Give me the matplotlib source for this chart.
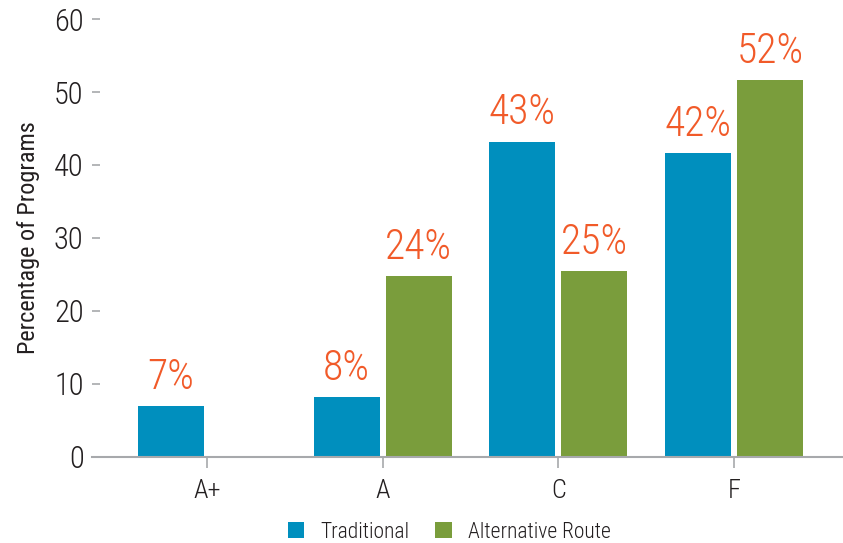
import matplotlib
matplotlib.use("Agg")
import matplotlib.pyplot as plt
import numpy as np
from matplotlib import font_manager

names = {f.name for f in font_manager.fontManager.ttflist}
fam = [n for n in ["Liberation Sans Narrow", "Roboto Condensed", "Liberation Sans", "DejaVu Sans"] if n in names]
plt.rcParams['font.family'] = fam
plt.rcParams['font.weight'] = 'light'

categories = ["A+", "A", "C", "F"]
traditional = [7.0, 8.2, 43.2, 41.6]
alternative = [None, 24.8, 25.5, 51.6]
trad_labels = ["7%", "8%", "43%", "42%"]
alt_labels = [None, "24%", "25%", "52%"]
yticks = [0, 10, 20, 30, 40, 50, 60]

blue = "#008FBE"
green = "#7A9D3C"
orange = "#F15A29"
txt = "#231F20"
gray = "#A7A9AC"

fig = plt.figure(figsize=(8.43, 5.43), dpi=100)
ax = fig.add_axes([0.109, 0.1584, 0.891, 0.8066])

x = np.arange(len(categories))
w = 0.376
off = 0.205
tb = ax.bar(x - off, traditional, w, color=blue, label="Traditional")
av = [v if v is not None else 0 for v in alternative]
ab = ax.bar(x + off, av, w, color=green, label="Alternative Route")

for i, (v, l) in enumerate(zip(traditional, trad_labels)):
    ax.annotate(l, (x[i] - off, v), xytext=(0, 6), textcoords="offset points",
                ha="center", va="bottom", color=orange, fontsize=30, fontweight="light")
for i, (v, l) in enumerate(zip(alternative, alt_labels)):
    if v is None:
        continue
    ax.annotate(l, (x[i] + off, v), xytext=(0, 6), textcoords="offset points",
                ha="center", va="bottom", color=orange, fontsize=30, fontweight="light")

ax.set_ylim(0, 60)
ax.set_xlim(-0.655, 3.62)
ax.set_yticks(yticks)
ax.set_xticks(x)
ax.set_xticklabels(categories)
for s in ["top", "right", "left"]:
    ax.spines[s].set_visible(False)
ax.spines["bottom"].set_color(gray)
ax.spines["bottom"].set_linewidth(1.5)
ax.tick_params(axis="y", direction="in", length=6, width=1.2, color=gray, labelsize=22, labelcolor=txt, pad=6)
ax.tick_params(axis="x", length=8, width=1.2, color=gray, labelsize=19, labelcolor=txt, pad=8)
ax.set_ylabel("Percentage of Programs", fontsize=17.5, color=txt, labelpad=10)

fig.legend(handles=[tb, ab], loc="lower center", bbox_to_anchor=(0.533, -0.035), ncol=2,
           frameon=False, fontsize=15.5, handlelength=0.75, handleheight=0.75,
           handletextpad=0.75, columnspacing=1.2, labelcolor=txt)

fig.savefig("out.png", dpi=100)
